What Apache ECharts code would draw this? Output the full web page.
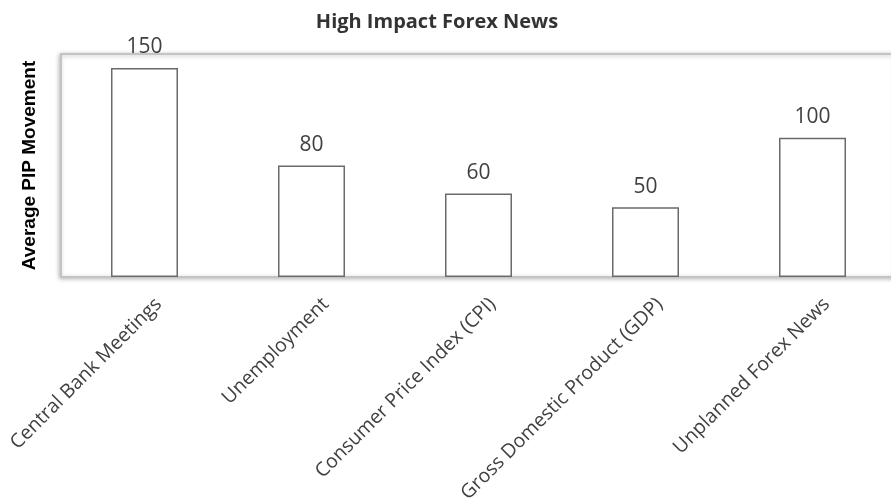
<!DOCTYPE html>
<html>
<head>
<meta charset="utf-8">
<script src="https://cdn.jsdelivr.net/npm/echarts@6/dist/echarts.min.js"></script>
<style>
  html, body { margin: 0; padding: 0; background: #fff; }
  #chart { width: 891px; height: 502px; }
</style>
</head>
<body>
<div id="chart"></div>
<script>
// News categories and their average pip movement
const categories = [
  'Central Bank Meetings',
  'Unemployment',
  'Consumer Price Index (CPI)',
  'Gross Domestic Product (GDP)',
  'Unplanned Forex News'
];
const pipMovement = [150, 80, 60, 50, 100];

const chart = echarts.init(document.getElementById('chart'));
chart.setOption({
  animation: false,
  backgroundColor: '#ffffff',
  title: {
    text: 'High Impact Forex News',
    left: 432,
    textAlign: 'center',
    top: 7,
    textStyle: {
      fontFamily: 'Open Sans',
      fontWeight: 'bold',
      fontSize: 20,
      color: '#333333'
    }
  },
  grid: {
    left: 61,
    width: 835,
    top: 54,
    bottom: 225,
    outerBoundsMode: 'none',
    containLabel: false,
    show: true,
    backgroundColor: '#ffffff',
    borderColor: '#c4c4c4',
    borderWidth: 2,
    shadowColor: 'rgba(0,0,0,0.25)',
    shadowBlur: 4,
    shadowOffsetX: -1,
    shadowOffsetY: 1
  },
  xAxis: {
    type: 'category',
    data: categories,
    axisLine: { show: false },
    axisTick: { show: false },
    axisLabel: {
      rotate: 45,
      interval: 0,
      margin: 10,
      verticalAlign: 'top',
      padding: [10, 0, 0, 0],
      fontFamily: 'Open Sans',
      fontSize: 19.5,
      color: '#404040'
    }
  },
  yAxis: {
    type: 'value',
    min: 0,
    max: 160,
    name: 'Average PIP Movement',
    nameLocation: 'middle',
    nameGap: 22,
    nameTextStyle: {
      fontFamily: 'Liberation Sans',
      fontWeight: 'bold',
      fontSize: 19,
      color: '#000000'
    },
    axisLabel: { show: false },
    axisLine: { show: false },
    axisTick: { show: false },
    splitLine: { show: false }
  },
  series: [{
    type: 'bar',
    data: pipMovement,
    barWidth: 67,
    itemStyle: {
      color: '#ffffff',
      borderColor: '#6a6a6a',
      borderWidth: 1.5
    },
    label: {
      show: true,
      position: 'top',
      distance: 10,
      fontFamily: 'Open Sans',
      fontSize: 21,
      color: '#404040'
    }
  }]
});
</script>
</body>
</html>
